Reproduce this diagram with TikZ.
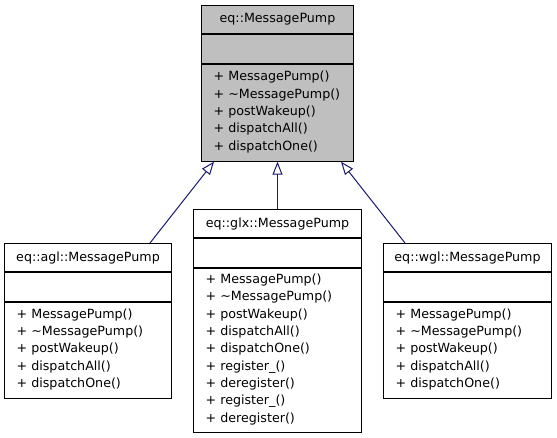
\documentclass[tikz,border=0pt]{standalone}
\usepackage{fontspec}
\setmainfont{DejaVu Sans}
\usetikzlibrary{positioning,arrows.meta}

\definecolor{edgeblue}{HTML}{191970}
\definecolor{basegray}{HTML}{BFBFBF}

\begin{document}
\begin{tikzpicture}[x=0.75pt, y=-0.75pt, font=\fontsize{9.5}{13}\selectfont,
    part/.style={draw=black, line width=0.75pt, inner sep=0pt},
    classtitle/.style={part, minimum width=#1, minimum height=21pt},
    classattr/.style={part, minimum width=#1, minimum height=21.5pt},
    classops/.style 2 args={part, text width=#1, minimum height=#2,
        inner xsep=9pt, align=left},
    generalization/.style={draw=edgeblue, line width=0.75pt,
        -{Triangle[open, length=9.75pt, width=7.5pt]}}]

     \useasboundingbox (0,0) rectangle (557,437);

     % base class
     \node[classtitle=114pt, fill=basegray, anchor=north west] (pump) at (201,5) {eq::MessagePump};
     \node[classattr=114pt, fill=basegray, below=0pt of pump] (pumpattr) {};
     \node[classops={96pt}{72.75pt}, fill=basegray, below=0pt of pumpattr] (pumpops)
          {+ MessagePump()\\+ \textasciitilde MessagePump()\\+ postWakeup()\\+ dispatchAll()\\+ dispatchOne()\rule[-3pt]{0pt}{0pt}};

     % agl
     \node[classtitle=125.25pt, anchor=north west] (agl) at (4,243) {eq::agl::MessagePump};
     \node[classattr=125.25pt, below=0pt of agl] (aglattr) {};
     \node[classops={107.25pt}{72pt}, below=0pt of aglattr] (aglops)
          {+ MessagePump()\\+ \textasciitilde MessagePump()\\+ postWakeup()\\+ dispatchAll()\\+ dispatchOne()\rule[-3pt]{0pt}{0pt}};

     % glx
     \node[classtitle=126pt, anchor=north west] (glx) at (193,209) {eq::glx::MessagePump};
     \node[classattr=126pt, below=0pt of glx] (glxattr) {};
     \node[classops={108pt}{123pt}, below=0pt of glxattr] (glxops)
          {+ MessagePump()\\+ \textasciitilde MessagePump()\\+ postWakeup()\\+ dispatchAll()\\+ dispatchOne()\\%
           + register\_()\\+ deregister()\\+ register\_()\\+ deregister()\rule[-3pt]{0pt}{0pt}};

     % wgl
     \node[classtitle=126pt, anchor=north west] (wgl) at (383,243) {eq::wgl::MessagePump};
     \node[classattr=126pt, below=0pt of wgl] (wglattr) {};
     \node[classops={108pt}{72pt}, below=0pt of wglattr] (wglops)
          {+ MessagePump()\\+ \textasciitilde MessagePump()\\+ postWakeup()\\+ dispatchAll()\\+ dispatchOne()\rule[-3pt]{0pt}{0pt}};

     % inheritance
     \draw[generalization] ([xshift=109.5pt]agl.north west) -- ([xshift=9.75pt]pumpops.south west);
     \draw[generalization] (glx.north) -- (pumpops.south);
     \draw[generalization] ([xshift=16.5pt]wgl.north west) -- ([xshift=-9.75pt]pumpops.south east);

\end{tikzpicture}
\end{document}
